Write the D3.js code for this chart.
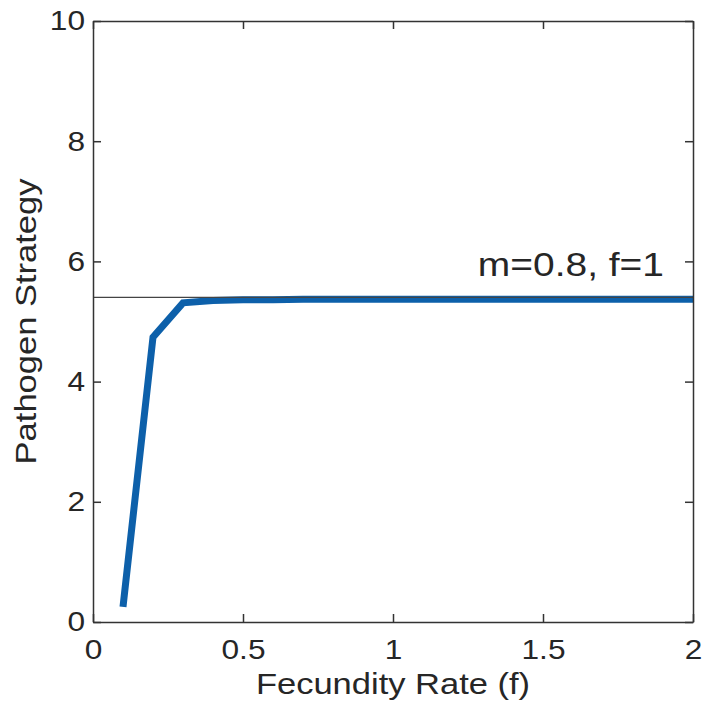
<!DOCTYPE html>
<html><head><meta charset="utf-8">
<script src="https://cdn.jsdelivr.net/npm/d3@7"></script>
<style>body{margin:0;background:#fff}text{font-family:"Liberation Sans",Arial,Helvetica,sans-serif;fill:#262626}</style>
</head><body><svg id="c" width="703" height="712"></svg>
<script>
const fecundity = [0.1,0.2,0.3,0.4,0.5,0.6,0.7,0.8,0.9,1.0,1.1,1.2,1.3,1.4,1.5,1.6,1.7,1.8,1.9,2.0];
const strategy  = [0.25,4.74,5.31,5.35,5.36,5.36,5.37,5.37,5.37,5.37,5.37,5.37,5.37,5.37,5.37,5.37,5.37,5.37,5.37,5.37];
const refValue = 5.40;
const refLabel = "m=0.8, f=1";
const xTicks = [0,0.5,1,1.5,2];
const yTicks = [0,2,4,6,8,10];
const xLabel = "Fecundity Rate (f)";
const yLabel = "Pathogen Strategy";

const svg = d3.select("#c");
const L=93,R=693,T=21,B=622;
const x = d3.scaleLinear().domain([0,2]).range([L,R]);
const y = d3.scaleLinear().domain([0,10]).range([B,T]);
const axc="#333";

// data line
svg.append("path").datum(fecundity.map((f,i)=>[f,strategy[i]]))
  .attr("d",d3.line().x(d=>x(d[0])).y(d=>y(d[1])))
  .attr("fill","none").attr("stroke","#0d60aa").attr("stroke-width",7).attr("stroke-linejoin","miter");

// reference line
svg.append("line").attr("x1",L).attr("x2",R).attr("y1",y(refValue)).attr("y2",y(refValue))
  .attr("stroke","#444").attr("stroke-width",1.3);
const tTitle = svg.append("text").attr("x",664).attr("y",y(refValue)-21).attr("text-anchor","end")
  .style("font-size","33px").text(refLabel);

// axes
const tl=8;
const fmt = d=>String(d);
const gB = svg.append("g").attr("transform",`translate(0,${B})`).call(d3.axisBottom(x).tickValues(xTicks).tickFormat(fmt).tickSizeInner(-tl).tickSizeOuter(0).tickPadding(17));
const gT = svg.append("g").attr("transform",`translate(0,${T})`).call(d3.axisTop(x).tickValues(xTicks).tickFormat("").tickSizeInner(-tl).tickSizeOuter(0));
const gL = svg.append("g").attr("transform",`translate(${L},0)`).call(d3.axisLeft(y).tickValues(yTicks).tickFormat(fmt).tickSizeInner(-tl).tickSizeOuter(0).tickPadding(8));
const gR = svg.append("g").attr("transform",`translate(${R},0)`).call(d3.axisRight(y).tickValues(yTicks).tickFormat("").tickSizeInner(-tl).tickSizeOuter(0));
[gB,gT,gL,gR].forEach(g=>{
  g.selectAll("path.domain").attr("stroke",axc).attr("stroke-width",1.5);
  g.selectAll(".tick line").attr("stroke",axc).attr("stroke-width",1.5);
  g.selectAll(".tick text").style("font-size","28px").attr("fill","#262626").attr("font-family",null);
});
gB.selectAll(".tick text").attr("dy","0.71em");

const tX = svg.append("text").attr("x",(L+R)/2).attr("y",694).attr("text-anchor","middle").style("font-size","30px").text(xLabel);
const tY = svg.append("text").attr("transform",`translate(36,${(T+B)/2}) rotate(-90)`).attr("text-anchor","middle").style("font-size","30px").text(yLabel);

function stretch(sel,k){
  sel.each(function(){
    if(!this.textContent) return;
    const w=this.getComputedTextLength();
    this.setAttribute("textLength",w*k);
    this.setAttribute("lengthAdjust","spacingAndGlyphs");
  });
}
stretch(gB.selectAll(".tick text"),1.13);
stretch(gL.selectAll(".tick text"),1.13);
stretch(tX,1.15);
stretch(tY,1.15);
stretch(tTitle,1.18);
</script></body></html>
